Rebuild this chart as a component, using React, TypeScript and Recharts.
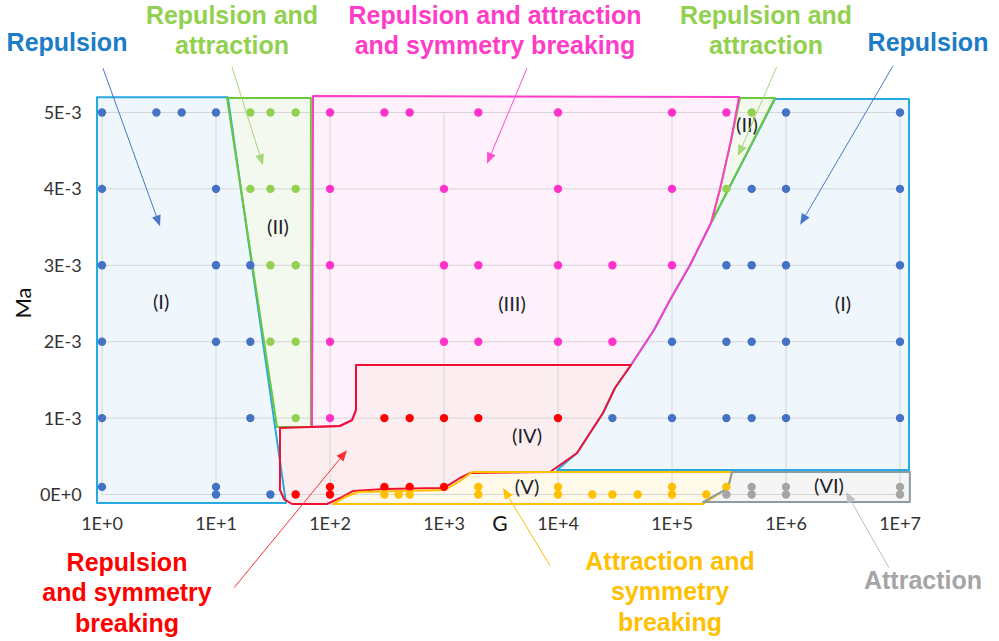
import React from 'react';
import { ScatterChart, Scatter, XAxis, YAxis, ReferenceLine, Customized } from 'recharts';

// axis ticks
const gTicks = [1, 10, 100, 1e3, 1e4, 1e5, 1e6, 1e7];
const gTickLabels = ['1E+0', '1E+1', '1E+2', '1E+3', '1E+4', '1E+5', '1E+6', '1E+7'];
const maTicks = [0, 0.001, 0.002, 0.003, 0.004, 0.005];
const maTickLabels = ['0E+0', '1E-3', '2E-3', '3E-3', '4E-3', '5E-3'];

// simulation points, grouped by Ma row: [Ma, G values]
type Row = [number, number[]];
const repulsionRows: Row[] = [
  [0.005, [1, 3, 5, 10, 1e6, 1e7]],
  [0.004, [1, 10, 5e5, 1e6, 1e7]],
  [0.003, [1, 10, 20, 3e5, 5e5, 1e6, 1e7]],
  [0.002, [1, 10, 20, 1e5, 3e5, 5e5, 1e6, 1e7]],
  [0.001, [1, 20, 3e4, 1e5, 3e5, 5e5, 1e6, 1e7]],
  [0.0001, [1, 10]],
  [0, [10, 30]],
];
const repAttRows: Row[] = [
  [0.005, [20, 30, 50, 5e5]],
  [0.004, [20, 30, 50, 3e5]],
  [0.003, [30, 50]],
  [0.002, [30, 50]],
  [0.001, [50]],
];
const repAttSymRows: Row[] = [
  [0.005, [100, 300, 500, 2000, 1e4, 1e5, 3e5]],
  [0.004, [100, 1000, 1e4, 1e5]],
  [0.003, [100, 1000, 2000, 1e4, 3e4, 1e5]],
  [0.002, [100, 1000, 2000, 1e4, 3e4]],
  [0.001, [100]],
];
const repSymRows: Row[] = [
  [0.001, [300, 500, 1000, 2000, 1e4]],
  [0.0001, [100, 300, 500, 1000]],
  [0, [50, 100]],
];
const attSymRows: Row[] = [
  [0.0001, [2000, 1e4, 1e5, 3e5]],
  [0, [300, 400, 500, 2000, 1e4, 2e4, 3e4, 5e4, 1e5, 2e5]],
];
const attractionRows: Row[] = [
  [0.0001, [5e5, 1e6, 1e7]],
  [0, [3e5, 5e5, 1e6, 1e7]],
];

// regime boundaries (G, Ma)
const regionILeft: [number, number][] = [[0.904, 0.0052], [12.7, 0.0052], [41.1, -0.00011], [0.904, -0.00011]];
const regionIILeft: [number, number][] = [[12.5, 0.00519], [68, 0.00519], [68, 0.000884], [34.3, 0.000884]];
const regionIII: [number, number][] = [
  [71, 0.005216], [3.87e5, 0.005203], [3.3e5, 0.00464], [2.64e5, 0.004], [2.2e5, 0.003554],
  [1.44e5, 0.003004], [9.6e4, 0.002546], [6.95e4, 0.002153], [4.37e4, 0.001695], [169, 0.001695],
  [169, 0.001106], [156, 0.000975], [122, 0.000897], [69.5, 0.000884],
];
const regionIV: [number, number][] = [
  [36.4, 0.00087], [122, 0.000897], [156, 0.000975], [169, 0.001106], [169, 0.001695],
  [4.37e4, 0.001695], [3.16e4, 0.001394], [2.48e4, 0.001066], [1.47e4, 0.000543], [8510, 0.000294],
  [1690, 0.000281], [1381, 0.000216], [1062, 0.000111], [923, 0.000085], [303, 0.000072],
  [159, 0.000046], [127, -0.000033], [94.2, -0.000124], [46.4, -0.000124], [39.5, -0.000059], [36.4, 0.000059],
];
const regionV: [number, number][] = [
  [1761, 0.000294], [3.36e5, 0.000294], [3.1e5, 0.000085], [1.87e5, -0.000124], [106, -0.000124],
  [135, -0.000033], [176, 0.000033], [1020, 0.000059], [1381, 0.000177],
];
const regionVI: [number, number][] = [[3.36e5, 0.000294], [1.22e7, 0.000294], [1.22e7, -0.000098], [1.87e5, -0.000098], [3.1e5, 0.000085]];
const regionIRight: [number, number][] = [
  [8.0e5, 0.005177], [1.2e7, 0.005177], [1.2e7, 0.000321], [9800, 0.000321], [1.47e4, 0.000543],
  [2.48e4, 0.001066], [3.16e4, 0.001394], [4.37e4, 0.001695], [6.95e4, 0.002153], [9.6e4, 0.002546],
  [1.44e5, 0.003004], [2.2e5, 0.003554],
];
const regionIIRight: [number, number][] = [[3.95e5, 0.00519], [8.0e5, 0.00519], [2.2e5, 0.003554], [2.64e5, 0.004], [3.3e5, 0.00464]];

// regime labels
const regimeLabels: [string, number, number][] = [
  ['(I)', 3.3, 0.00252], ['(II)', 35, 0.0035], ['(III)', 3950, 0.00249], ['(IV)', 5350, 0.000766],
  ['(V)', 5350, 0.0001], ['(VI)', 2.38e6, 0.00011], ['(I)', 3.16e6, 0.00249], ['(II)', 4.55e5, 0.00484],
];

const toPts = (rows: Row[]) => rows.flatMap(([ma, gs]) => gs.map((g) => ({ x: g, y: ma })));
const toPoly = (pts: [number, number][]) => pts.map(([x, y]) => ({ x, y }));

const gridData = [
  ...gTicks.flatMap((g) => [{ x: g, y: maTicks[0] }, { x: g, y: maTicks[maTicks.length - 1] }]),
  ...maTicks.flatMap((m) => [{ x: gTicks[0], y: m }, { x: gTicks[gTicks.length - 1], y: m }]),
];

const BLUE = '#4472C4';
const GREEN = '#92D050';
const PINK = '#FF33CC';
const RED = '#FF0000';
const ORANGE = '#FFC000';
const GRAY = '#A5A5A5';

const noShape = () => <g />;
const dot = (color: string) => (p: any) => <circle cx={p.cx} cy={p.cy} r={4.2} fill={color} />;

const gridLine = (p: any) => {
  const pts = p.points as { x: number; y: number }[];
  let d = '';
  for (let i = 0; i + 1 < pts.length; i += 2) d += `M${pts[i].x},${pts[i].y}L${pts[i + 1].x},${pts[i + 1].y}`;
  return <path d={d} stroke="#D6D6D6" strokeWidth={1} fill="none" />;
};

const polyPath = (pts: { x: number; y: number }[]) =>
  pts.map((q, i) => `${i ? 'L' : 'M'}${q.x},${q.y}`).join(' ') + ' Z';

const regionFill = (fill: string) => (p: any) => <path d={polyPath(p.points)} fill={fill} stroke="none" />;
const regionEdge = (stroke: string) => (p: any) => (
  <path d={polyPath(p.points)} fill="none" stroke={stroke} strokeWidth={2} strokeLinejoin="round" />
);

const labelShape = (p: any) => (
  <text x={p.cx} y={p.cy} dy="0.35em" textAnchor="middle" fontFamily="Lato, sans-serif" fontSize={20} fill="#1e1e2a">
    {p.payload.tag}
  </text>
);

const arrowShape = (color: string) => (p: any) => {
  const x1 = +p.x1, y1 = +p.y1, x2 = +p.x2, y2 = +p.y2;
  const a = Math.atan2(y2 - y1, x2 - x1);
  const len = 11, w = 4.5;
  const bx = x2 - len * Math.cos(a), by = y2 - len * Math.sin(a);
  const head = `${x2},${y2} ${bx - w * Math.sin(a)},${by + w * Math.cos(a)} ${bx + w * Math.sin(a)},${by - w * Math.cos(a)}`;
  return (
    <g>
      <line x1={x1} y1={y1} x2={bx} y2={by} stroke={color} strokeWidth={1} />
      <polygon points={head} fill={color} />
    </g>
  );
};

const arrows: { from: [number, number]; to: [number, number]; color: string }[] = [
  { from: [1.02, 0.00558], to: [3.23, 0.00351], color: '#4A78C8' },
  { from: [13.8, 0.0056], to: [25.8, 0.00431], color: '#A6D878' },
  { from: [5350, 0.00558], to: [2385, 0.00433], color: '#FF4FD2' },
  { from: [8.3e5, 0.0056], to: [3.79e5, 0.00443], color: '#A6D878' },
  { from: [8.68e6, 0.00561], to: [1.33e6, 0.00353], color: '#4A78C8' },
  { from: [14.4, -0.00122], to: [141, 0.00058], color: '#FF3030' },
  { from: [8510, -0.00093], to: [3296, 0.000085], color: '#FFC000' },
  { from: [8.0e6, -0.00096], to: [3.36e6, 0.000033], color: '#BFBFBF' },
];

const notes: { lines: string[]; color: string; x: number; y: number }[] = [
  { lines: ['Repulsion'], color: '#1C7CC6', x: 67, y: 42 },
  { lines: ['Repulsion and', 'attraction'], color: GREEN, x: 232, y: 15 },
  { lines: ['Repulsion and attraction', 'and symmetry breaking'], color: '#FF3CC8', x: 495, y: 15 },
  { lines: ['Repulsion and', 'attraction'], color: GREEN, x: 766, y: 15 },
  { lines: ['Repulsion'], color: '#1C7CC6', x: 928, y: 42 },
  { lines: ['Repulsion', 'and symmetry', 'breaking'], color: '#FF0000', x: 127, y: 562 },
  { lines: ['Attraction and', 'symmetry', 'breaking'], color: ORANGE, x: 670, y: 561 },
  { lines: ['Attraction'], color: GRAY, x: 923, y: 580 },
];

const Annotations = () => (
  <g>
    {notes.map((n, i) => (
      <text key={i} textAnchor="middle" fontFamily="'Liberation Sans', Arial, sans-serif" fontWeight="bold" fontSize={25} fill={n.color}>
        {n.lines.map((l, j) => (
          <tspan key={j} x={n.x} y={n.y + j * 30.5} dy="0.35em">{l}</tspan>
        ))}
      </text>
    ))}
    <text x={500} y={524} dy="0.35em" textAnchor="middle" fontFamily="Lato, sans-serif" fontSize={21} fill="#111">G</text>
    <text x={23} y={303} dy="0.35em" textAnchor="middle" fontFamily="Lato, sans-serif" fontSize={22} fill="#111" transform="rotate(-90 23 303)">Ma</text>
  </g>
);

const BLUE_FILL = '#F0F7FC';
const GREEN_FILL = '#F3F9EE';
const BLUE_EDGE = '#25A9E0';
const GREEN_EDGE = '#6CC83A';

// fills are painted below the grid, edges above it
const regionFills: { pts: [number, number][]; fill: string }[] = [
  { pts: regionILeft, fill: BLUE_FILL },
  { pts: regionIILeft, fill: GREEN_FILL },
  { pts: regionIII, fill: '#FEF1FB' },
  { pts: regionIV, fill: '#FCEEF0' },
  { pts: regionV, fill: '#FFF9EA' },
  { pts: regionVI, fill: '#F5F5F5' },
  { pts: regionIRight, fill: BLUE_FILL },
  { pts: regionIIRight, fill: GREEN_FILL },
];
const regionEdges: { pts: [number, number][]; stroke: string }[] = [
  { pts: regionILeft, stroke: BLUE_EDGE },
  { pts: regionIRight, stroke: BLUE_EDGE },
  { pts: regionIILeft, stroke: GREEN_EDGE },
  { pts: regionIIRight, stroke: GREEN_EDGE },
  { pts: regionIII, stroke: '#FF3DC8' },
  { pts: regionIV, stroke: '#EE1133' },
  { pts: regionV, stroke: '#FFC000' },
  { pts: regionVI, stroke: '#8C9BA3' },
];

const series: { rows: Row[]; color: string }[] = [
  { rows: repulsionRows, color: BLUE },
  { rows: repAttRows, color: GREEN },
  { rows: repAttSymRows, color: PINK },
  { rows: repSymRows, color: RED },
  { rows: attSymRows, color: ORANGE },
  { rows: attractionRows, color: GRAY },
];

export default function App() {
  return (
    <div style={{ position: 'absolute', left: 0, top: 0, width: 999, height: 641, background: '#fff' }}>
      <ScatterChart width={999} height={641} margin={{ top: 93.4, right: 81.9, bottom: 0, left: 0 }}>
        <XAxis
          type="number"
          dataKey="x"
          scale="log"
          domain={[Math.pow(10, -0.1), Math.pow(10, 7.15)]}
          allowDataOverflow
          ticks={gTicks}
          interval={0}
          tickFormatter={(v: number) => gTickLabels[gTicks.indexOf(v)] ?? ''}
          axisLine={false}
          tickLine={false}
          tickSize={4}
          tickMargin={3}
          height={131.2}
          tick={{ fontFamily: 'Lato, sans-serif', fontSize: 18, fill: '#333' }}
        />
        <YAxis
          type="number"
          dataKey="y"
          domain={[-0.0002, 0.00525]}
          allowDataOverflow
          ticks={maTicks}
          interval={0}
          tickFormatter={(v: number) => maTickLabels[maTicks.indexOf(v)] ?? ''}
          axisLine={false}
          tickLine={false}
          tickSize={4}
          tickMargin={5}
          width={90.6}
          tick={{ fontFamily: 'Lato, sans-serif', fontSize: 18, fill: '#333' }}
        />
        {regionFills.map((r, i) => (
          <Scatter key={`f${i}`} data={toPoly(r.pts)} shape={noShape} line={regionFill(r.fill)} isAnimationActive={false} />
        ))}
        <Scatter data={gridData} shape={noShape} line={gridLine} isAnimationActive={false} />
        {regionEdges.map((r, i) => (
          <Scatter key={`e${i}`} data={toPoly(r.pts)} shape={noShape} line={regionEdge(r.stroke)} isAnimationActive={false} />
        ))}
        {series.map((s, i) => (
          <Scatter key={`s${i}`} data={toPts(s.rows)} shape={dot(s.color)} isAnimationActive={false} />
        ))}
        <Scatter
          data={regimeLabels.map(([tag, x, y]) => ({ tag, x, y }))}
          shape={labelShape}
          isAnimationActive={false}
        />
        {arrows.map((a, i) => (
          <ReferenceLine
            key={`a${i}`}
            segment={[{ x: a.from[0], y: a.from[1] }, { x: a.to[0], y: a.to[1] }]}
            ifOverflow="visible"
            zIndex={2500}
            shape={arrowShape(a.color)}
          />
        ))}
        <Customized component={Annotations} />
      </ScatterChart>
    </div>
  );
}
